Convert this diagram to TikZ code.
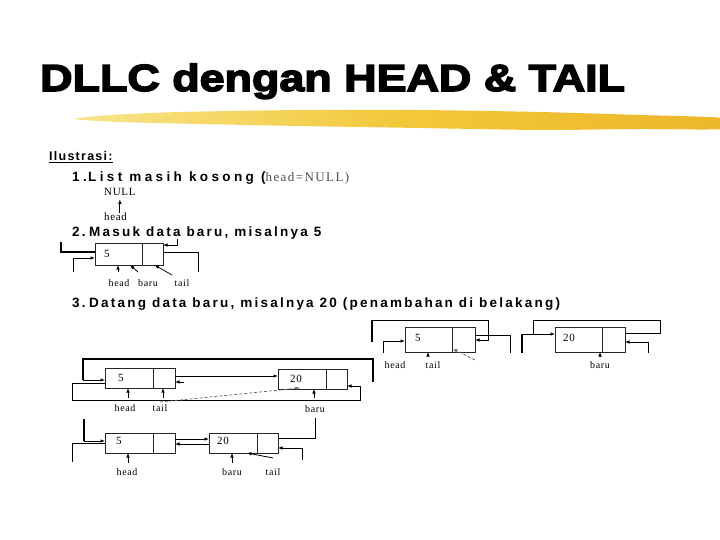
\documentclass[tikz,border=0pt]{standalone}
\usepackage{fontspec}
\setmainfont{Liberation Serif}
\newfontfamily\titlefont[FakeStretch=1.19,FakeBold=4]{Liberation Sans}
\newfontfamily\bodyfont[LetterSpace=16.5]{Liberation Sans}
\newfontfamily\bodyfontw[LetterSpace=25]{Liberation Sans}
\newfontfamily\ilufont[LetterSpace=10]{Liberation Sans}
\newfontfamily\lblfont[LetterSpace=6]{Liberation Serif}
\newfontfamily\inlfont[LetterSpace=11]{Liberation Serif}
\usetikzlibrary{arrows.meta,calc}
\definecolor{brushA}{HTML}{F8E48A}
\definecolor{brushB}{HTML}{F2C83A}
\definecolor{brushC}{HTML}{EDB62A}
\tikzset{
  dcell/.style={draw=black!85, line width=0.7bp, inner sep=0pt, outer sep=0pt},
  conn/.style={line width=0.8bp},
  arr/.style={conn, -{Latex[length=4.5bp,width=3.6bp]}},
  darr/.style={line width=0.7bp, black!60, densely dashed, -{Latex[length=4.5bp,width=3.6bp]}},
  thk/.style={line width=1.6bp},
  lbl/.style={font=\lblfont\fontsize{10bp}{10bp}\selectfont, inner sep=0pt},
  val/.style={font=\lblfont\fontsize{11bp}{11bp}\selectfont, inner sep=0pt},
  txt/.style={font=\bodyfont\bfseries\fontsize{13.5bp}{14bp}\selectfont, inner sep=0pt, anchor=base west},
}
\begin{document}
\begin{tikzpicture}[x=1bp,y=-1bp]
\fill[white] (0,0) rectangle (720,540);
\useasboundingbox (0,0) rectangle (720,540);
% brush stroke
\shade[left color=brushA, right color=brushC, middle color=brushB]
  plot[smooth cycle, tension=0.4] coordinates {(74,119) (110,115) (180,112) (300,110) (420,110) (540,112) (640,115) (722,118) (722,129) (640,129) (540,130) (420,128) (300,126) (200,124) (120,122)};
% title
\node[font=\titlefont\bfseries\fontsize{37.7bp}{38bp}\selectfont, inner sep=0pt, anchor=base west] (title) at (40,91) {DLLC dengan HEAD \& TAIL};
% texts
\node[inner sep=0pt, anchor=base west, font=\ilufont\bfseries\fontsize{12.5bp}{13bp}\selectfont] (ilu) at (49,161) {\underline{Ilustrasi:}};
\node[txt, font=\bodyfontw\bfseries\fontsize{13.5bp}{14bp}\selectfont] (l1) at (72,182) {\makebox[16bp][l]{1.}List masih kosong ({\inlfont\mdseries\fontsize{13bp}{13bp}\selectfont\color{black!70}head=NULL)}};
\node[txt] (l2) at (72,237) {\makebox[17bp][l]{2.}Masuk data baru, misalnya 5};
\node[txt] (l3) at (72,307) {\makebox[17bp][l]{3.}Datang data baru, misalnya 20 (penambahan di belakang)};
% step 1
\node[lbl, font=\lblfont\fontsize{11bp}{11bp}\selectfont, anchor=base west] (null) at (104,196) {NULL};
\node[lbl, font=\lblfont\fontsize{11bp}{11bp}\selectfont, anchor=base west] (h1) at (104,221) {head};
\draw[arr] (h1.north -| null.south) -- ($(null.south)+(0,3)$);
% step 2
\node[dcell, minimum width=47bp, minimum height=22bp] (s2d) at (118.5,254) {};
\node[dcell, minimum width=21bp, minimum height=22bp] (s2p) at (152.5,254) {};
\node[val, anchor=west] (s2v) at ($(s2d.west)+(9,0)$) {5};
\coordinate (c2a) at (61,242);
\draw[thk] (c2a) |- ($(s2d.west)+(0,-2)$);
\coordinate (c2b) at (73,272);
\draw[arr] (c2b) |- ($(s2d.west)+(0,4)$);
\coordinate (c2c) at (177,239);
\draw[arr] (c2c) |- ($(s2p.east)+(0,-9)$);
\coordinate (c2d) at (198,272);
\draw[conn] ($(s2p.east)+(0,-2)$) -| (c2d);
\coordinate (c2e) at (118,272);
\draw[arr] (c2e) -- (c2e |- s2d.south);
\coordinate (c2f) at (138,272);
\draw[arr] (c2f) -- ($(s2d.south)+(11.5,0)$);
\coordinate (c2g) at (172,275);
\draw[arr] (c2g) -- ($(s2p.south)+(2,0)$);
\node[lbl] (s2hl) at (119,283) {head};
\node[lbl] (s2bl) at (148,283) {baru};
\node[lbl] (s2tl) at (182,283) {tail};
% step 3 top-right, left part
\node[dcell, minimum width=47bp, minimum height=25bp] (t1d) at (428.5,339.5) {};
\node[dcell, minimum width=23bp, minimum height=25bp] (t1p) at (463.5,339.5) {};
\node[val, anchor=west] (t1v) at ($(t1d.west)+(10,-2)$) {5};
\coordinate (c3a) at (372,342);
\coordinate (c3b) at (488,320);
\draw[thk] (c3a) -- (c3a |- c3b);
\draw[arr] (c3a |- c3b) -- (c3b) |- ($(t1p.east)+(0,0.5)$);
\coordinate (c3c) at (383,353);
\draw[arr] (c3c) |- ($(t1d.west)+(0,1.5)$);
\coordinate (c3d) at (510,353);
\draw[conn] ($(t1p.east)+(0,-4.5)$) -| (c3d);
\coordinate (c3e) at (428,357);
\draw[arr] (c3e) -- (c3e |- t1d.south);
\coordinate (c3f) at (475,360);
\draw[darr] (c3f) -- ($(t1p.south west)+(1,-3)$);
\node[lbl] (t1hl) at (395,365) {head};
\node[lbl] (t1tl) at (433,365) {tail};
% step 3 top-right, right part
\node[dcell, minimum width=47bp, minimum height=25bp] (t2d) at (578.5,339.5) {};
\node[dcell, minimum width=23bp, minimum height=25bp] (t2p) at (613.5,339.5) {};
\node[val, anchor=west] (t2v) at ($(t2d.west)+(8,-2)$) {20};
\coordinate (c3g) at (522,334);
\coordinate (c3h) at (522,353);
\draw[thk] (c3g) -- (c3h);
\draw[arr] (c3g) -- ($(t2d.west)+(0,-5.5)$);
\coordinate (c3i) at (660,320);
\coordinate (c3j) at (533,334);
\draw[conn] ($(t2p.east)+(0,-6.5)$) -| (c3i) -| (c3j);
\coordinate (c3k) at (648,353);
\draw[arr] (c3k) |- ($(t2p.east)+(0,2.5)$);
\coordinate (c3l) at (600,357);
\draw[arr] (c3l) -- (c3l |- t2d.south);
\node[lbl] (t2bl) at (600,365) {baru};
% step 3 lower
\node[dcell, minimum width=48bp, minimum height=20bp] (ad) at (129,378) {};
\node[dcell, minimum width=22bp, minimum height=20bp] (ap) at (164,378) {};
\node[dcell, minimum width=48bp, minimum height=20bp] (bd) at (302,379) {};
\node[dcell, minimum width=21bp, minimum height=20bp] (bp) at (336.5,379) {};
\node[val, anchor=west] (av) at ($(ad.west)+(13,0)$) {5};
\node[val, anchor=west] (bv) at ($(bd.west)+(12,0)$) {20};
\coordinate (c4a) at (373,382);
\coordinate (c4b) at (83,359);
\coordinate (c4x) at (83,380);
\draw[line width=1.2bp] (c4a) |- (c4b) -- (c4x);
\draw[arr] (c4x) -- ($(ad.west)+(0,2)$);
\coordinate (c4c) at (72,400);
\coordinate (c4d) at (360,386);
\draw[arr] ($(ad.west)+(0,5)$) -| (c4c) -| (c4d) -- ($(bp.east)+(0,7)$);
\draw[arr] ($(ap.east)+(0,-2)$) -- ($(bd.west)+(0,-3)$);
\coordinate (c4e) at (184,382);
\draw[arr] (c4e) -- ($(ap.east)+(0,4)$);
\coordinate (c4f) at (160,402);
\draw[darr] (c4f) -- ($(bd.south)+(-2,-1)$);
\coordinate (c4g) at (128,398);
\draw[arr] (c4g) -- (c4g |- ad.south);
\coordinate (c4h) at (163,398);
\draw[arr] (c4h) -- (c4h |- ap.south);
\coordinate (c4i) at (314,398);
\draw[arr] (c4i) -- (c4i |- bd.south);
\node[lbl] (l4h) at (125,408) {head};
\node[lbl] (l4t) at (160,408) {tail};
\node[lbl] (l4b) at (315,409) {baru};
% final
\node[dcell, minimum width=48bp, minimum height=20bp] (ed) at (129,443) {};
\node[dcell, minimum width=22bp, minimum height=20bp] (ep) at (164,443) {};
\node[dcell, minimum width=48bp, minimum height=20bp] (gd) at (233,443) {};
\node[dcell, minimum width=21bp, minimum height=20bp] (gp) at (267.5,443) {};
\node[val, anchor=west] (ev) at ($(ed.west)+(11,-2)$) {5};
\node[val, anchor=west] (gv) at ($(gd.west)+(8,-2)$) {20};
\coordinate (c5a) at (84,419);
\coordinate (c5b) at (84,441);
\draw[thk] (c5a) -- (c5b);
\draw[arr] (c5b) -- ($(ed.west)+(0,-2)$);
\coordinate (c5c) at (72,462);
\draw[conn] (ed.west) -| (c5c);
\draw[arr] ($(ep.east)+(0,-4)$) -- ($(gd.west)+(0,-4)$);
\draw[arr] ($(gd.west)+(0,1)$) -- ($(ep.east)+(0,1)$);
\coordinate (c5d) at (315,418);
\draw[conn] ($(gp.east)+(0,-5)$) -| (c5d);
\coordinate (c5e) at (302,460);
\draw[arr] (c5e) |- ($(gp.east)+(0,5)$);
\coordinate (c5f) at (128,463);
\draw[arr] (c5f) -- (c5f |- ed.south);
\coordinate (c5g) at (232,463);
\draw[arr] (c5g) -- (c5g |- gd.south);
\coordinate (c5h) at (273,458);
\draw[arr] (c5h) -- ($(gd.south)+(14,0)$);
\node[lbl] (l5h) at (127,472) {head};
\node[lbl] (l5b) at (232,472) {baru};
\node[lbl] (l5t) at (273,472) {tail};
\end{tikzpicture}
\end{document}
